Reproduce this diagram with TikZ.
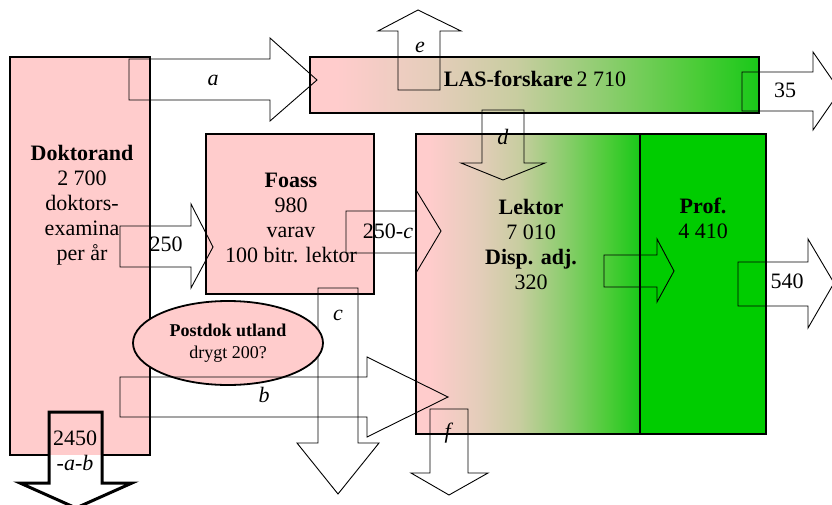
\documentclass[tikz,border=0pt]{standalone}
\usepackage{fontspec}
\setmainfont{Liberation Serif}
\usetikzlibrary{shapes.geometric}
\definecolor{pk}{RGB}{255,204,204}
\definecolor{gr}{RGB}{0,204,0}
\definecolor{ga}{RGB}{228,205,186}
\definecolor{gb}{RGB}{200,205,160}
\definecolor{gc}{RGB}{140,205,110}
\definecolor{gd}{RGB}{75,204,55}
\definecolor{ge}{RGB}{25,200,25}
\pgfdeclarehorizontalshading{pinkgreen}{100bp}{color(0bp)=(pk); color(25bp)=(pk); color(28bp)=(pk); color(39bp)=(ga); color(48bp)=(gb); color(58bp)=(gc); color(68bp)=(gd); color(75bp)=(ge); color(100bp)=(ge)}
\begin{document}
\begin{tikzpicture}[x=1pt,y=-1pt,
  box/.style={draw=black, line width=1.6pt, inner sep=0pt, outer sep=0pt},
  blk/.style={draw=black, line width=0.9pt, line join=miter},
  txt/.style={font=\fontsize{22}{25}\selectfont, inner sep=0pt, align=center},
  stxt/.style={font=\fontsize{18}{22}\selectfont, inner sep=0pt, align=center}]
\useasboundingbox (0,0) rectangle (832,505);
\clip (0,0) rectangle (832,505);
% boxes
\node[fill=pk, inner sep=0pt, outer sep=0pt, minimum width=140pt, minimum height=398pt] (dok) at (80,256) {};
\draw[line width=1.8pt] (49,455) -- (dok.south west) -- (dok.north west) -- (dok.north east) -- (dok.south east) -- (102,455);
\node[box, fill=pk, line width=1.8pt, minimum width=168pt, minimum height=160pt] (foass) at (290,214) {};
\node[box, shading=pinkgreen, minimum width=449pt, minimum height=56pt] (las) at (534.5,85) {};
\node[box, shading=pinkgreen, minimum width=224pt, minimum height=300pt] (lektor) at (528,284) {};
\node[box, fill=gr, minimum width=126pt, minimum height=300pt] (prof) at (703,284) {};
% box texts
\node[txt] (doktxt) at (82,205) {\textbf{Doktorand}\\2 700\\doktors-\\examina\\per år};
\node[txt] (foasstxt) at (291,218) {\textbf{Foass}\\980\\varav\\100 bitr. lektor};
\node[txt] (lastxt) at (535,79) {\textbf{LAS-forskare}\,2 710};
\node[txt] (lektortxt) at (531,244) {\textbf{Lektor}\\7 010\\\textbf{Disp. adj.}\\320};
\node[txt] (proftxt) at (703,218) {\textbf{Prof.}\\4 410};
% block arrows (right)
\draw[blk] (129,59) -- (270,59) -- (270,38) -- (317,80) -- (270,121) -- (270,100) -- (129,100) -- cycle;
\draw[blk] (120,226) -- (191,226) -- (191,204) -- (213,247) -- (191,288) -- (191,267) -- (120,267) -- cycle;
\draw[blk] (346,211) -- (416,211) -- (416,190) -- (441,231) -- (416,273) -- (416,253) -- (346,253) -- cycle;
\draw[blk] (742,72) -- (813,72) -- (813,52) -- (840,91) -- (813,130) -- (813,111) -- (742,111) -- cycle;
\draw[blk] (738,262) -- (808,262) -- (808,239) -- (834,283) -- (808,328) -- (808,306) -- (738,306) -- cycle;
\draw[blk] (604,255) -- (657,255) -- (657,239) -- (674,271) -- (657,302) -- (657,287) -- (604,287) -- cycle;
% block arrows (up / down)
\draw[blk] (398,90) -- (398,31) -- (378,31) -- (418,10) -- (461,31) -- (440,31) -- (440,90) -- cycle;
\draw[blk] (482,110) -- (524,110) -- (524,163) -- (545,163) -- (503,180) -- (461,163) -- (482,163) -- cycle;
\draw[blk] (318,288) -- (358,288) -- (358,443) -- (379,443) -- (338,494) -- (297,443) -- (318,443) -- cycle;
\draw[blk] (430,409) -- (468,409) -- (468,473) -- (488,473) -- (449,495) -- (411,473) -- (430,473) -- cycle;
\draw[blk, line width=3pt] (49,412) -- (102,412) -- (102,483) -- (132,483) -- (76,508) -- (20,483) -- (49,483) -- cycle;
% ellipse
\node[ellipse, draw=black, line width=1.8pt, fill=pk, inner sep=0pt, minimum width=190pt, minimum height=84pt, stxt] (postdok) at (228,343) {\textbf{Postdok utland}\\drygt 200?};
% arrow b (over ellipse)
\draw[blk] (120,377) -- (367,377) -- (367,357) -- (448,397) -- (367,437) -- (367,417) -- (120,417) -- cycle;
% labels
\node[txt] (la) at (213,80) {\textit{a}};
\node[txt] (le) at (420,47) {\textit{e}};
\node[txt] (ld) at (503,137) {\textit{d}};
\node[txt] (lc) at (338,315) {\textit{c}};
\node[txt] (lb) at (264,395) {\textit{b}};
\node[txt] (lf) at (449,433) {\textit{f}};
\node[txt] (l2450) at (75,438) {2450};
\node[txt] (lab) at (75,463) {\textit{-a-b}};
\node[txt] (l250) at (166,244) {250};
\node[txt] (l250c) at (388,231) {250-\textit{c}};
\node[txt] (l35) at (785,90) {35};
\node[txt] (l540) at (787,281) {540};
\end{tikzpicture}
\end{document}
